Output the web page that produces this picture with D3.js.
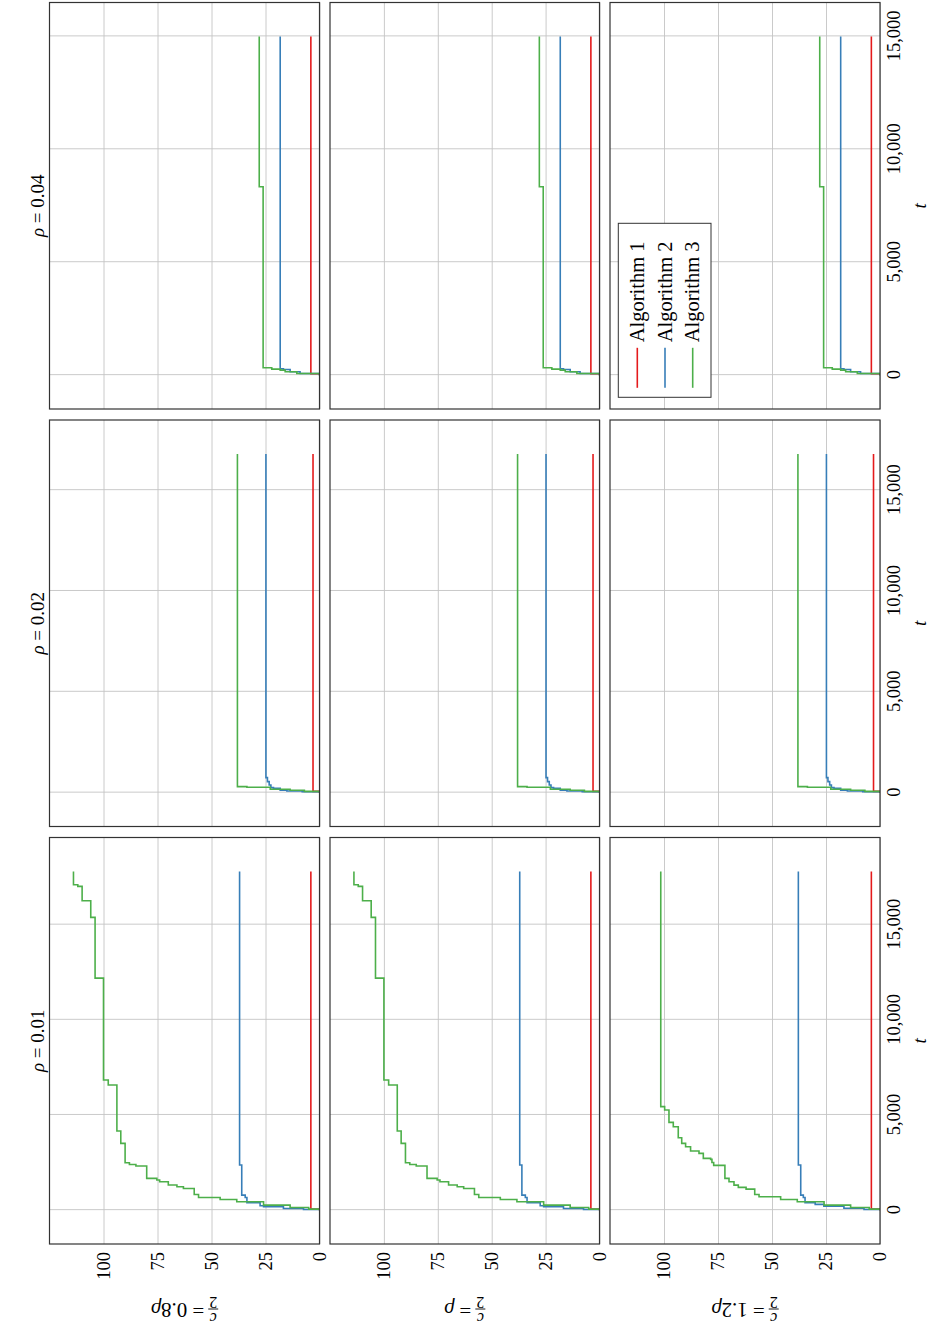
<!DOCTYPE html>
<html><head><meta charset="utf-8">
<script src="https://cdn.jsdelivr.net/npm/d3@7"></script>
<style>body{margin:0;background:#fff} svg{display:block}</style>
</head><body>
<svg id="c" width="932" height="1331"></svg>
<script>
// ---- data ----
const rhoValues = ["0.01", "0.02", "0.04"];
const rowLabels = ["0.8", "", "1.2"];           // c/2 = {prefix}ρ
const tEnd = [17800, 16800, 15000];
const tTicks = [0, 5000, 10000, 15000];
const vTicks = [0, 25, 50, 75, 100];
const vMax = 125;
const seriesNames = ["Algorithm 1", "Algorithm 2", "Algorithm 3"];
const colors = ["#e41a1c", "#377eb8", "#4daf4a"];

// [t, value] step points
const alg1_rho001 = [[0,0],[60,4]];
const alg1_rho002 = [[0,0],[60,3]];
const alg1_rho004 = [[0,0],[60,4]];

const alg2_rho001 = [[0,0],[35,7.4],[88,16.7],[175,25.9],[228,27.5],[386,33.6],[667,34.4],[789,36],[2370,37]];
const alg2_rho001_12 = [[0,0],[35,7.4],[100,16.7],[200,26],[300,30],[390,34.7],[667,35.5],[789,36.7],[2370,37.8]];
const alg2_rho002 = [[0,0],[40,8],[83,15.1],[116,18.2],[215,21.3],[248,22.5],[380,23.3],[545,24.1],[742,24.8]];
const alg2_rho004 = [[0,0],[74,9],[148,13.6],[252,16.7],[282,18.2]];

const alg3_rho001 = [[0,0],[50,5],[140,13.6],[263,25.9],[438,38.3],[561,46],[667,56],[824,58],[1140,63],[1230,66],[1320,70],[1490,74],[1580,75.3],[1666,80],[2315,85],[2400,88],[2490,90],[3508,92],[4157,93.8],[6577,97.8],[6840,100],[12190,103.9],[15383,105.9],[16260,109.9],[17014,111.9],[17100,113.9]];
const alg3_rho001_12 = [[0,0],[50,5],[140,13.6],[263,25.9],[438,38.3],[561,46],[702,56],[824,58],[1105,62],[1193,65.6],[1316,67.6],[1491,69.9],[1666,71.8],[2350,77],[2500,77.8],[2666,78.4],[2719,81.8],[2982,83.8],[3105,87.7],[3333,90],[3508,91.8],[3806,93.4],[4385,95.7],[4613,97.7],[5262,99.7],[5437,101.5]];
const alg3_rho002 = [[0,0],[60,7],[116,13.6],[165,22.8],[264,33.6],[297,38]];
const alg3_rho004 = [[0,0],[74,10.5],[148,15.9],[223,18.2],[267,22.1],[326,26.1],[8340,27.9]];

// panels[row][col] = [alg1, alg2, alg3]
const panels = [
  [[alg1_rho001, alg2_rho001, alg3_rho001], [alg1_rho002, alg2_rho002, alg3_rho002], [alg1_rho004, alg2_rho004, alg3_rho004]],
  [[alg1_rho001, alg2_rho001, alg3_rho001], [alg1_rho002, alg2_rho002, alg3_rho002], [alg1_rho004, alg2_rho004, alg3_rho004]],
  [[alg1_rho001, alg2_rho001_12, alg3_rho001_12], [alg1_rho002, alg2_rho002, alg3_rho002], [alg1_rho004, alg2_rho004, alg3_rho004]]
];

// ---- layout (drawn in landscape frame, then rotated onto the portrait page) ----
const FONT = "'Liberation Serif', 'DejaVu Serif', serif";
const colX = [[87, 493.5], [504.5, 911], [922, 1328.5]];
const rowY = [[49.5, 319.5], [330, 599.5], [610, 880]];

const svg = d3.select("#c");
const root = svg.append("g").attr("transform", "translate(0,1331) rotate(-90)")
  .style("font-family", FONT);

const fmt = d3.format(",");

panels.forEach((rowP, r) => {
  rowP.forEach((series, c) => {
    const x = d3.scaleLinear().domain([-0.1 * tEnd[c], 1.1 * tEnd[c]]).range(colX[c]);
    const y = d3.scaleLinear().domain([0, vMax]).range([rowY[r][1], rowY[r][0]]);
    const g = root.append("g");
    const cid = "clip" + r + c;
    g.append("clipPath").attr("id", cid).append("rect")
      .attr("x", colX[c][0]).attr("y", rowY[r][0])
      .attr("width", colX[c][1] - colX[c][0]).attr("height", rowY[r][1] - rowY[r][0]);

    // grid
    const gx = g.append("g").attr("transform", `translate(0,${rowY[r][1]})`)
      .call(d3.axisBottom(x).tickValues(tTicks).tickSize(-(rowY[r][1] - rowY[r][0])).tickFormat(""));
    gx.select(".domain").remove();
    gx.selectAll("line").attr("stroke", "#c4c4c4").attr("stroke-width", 0.9);
    const gy = g.append("g").attr("transform", `translate(${colX[c][0]},0)`)
      .call(d3.axisLeft(y).tickValues(vTicks).tickSize(-(colX[c][1] - colX[c][0])).tickFormat(""));
    gy.select(".domain").remove();
    gy.selectAll("line").attr("stroke", "#c4c4c4").attr("stroke-width", 0.9);

    // series
    const line = d3.line().x(d => x(d[0])).y(d => y(d[1])).curve(d3.curveStepAfter);
    series.forEach((pts, i) => {
      const full = pts.concat([[tEnd[c], pts[pts.length - 1][1]]]);
      g.append("path").attr("d", line(full)).attr("fill", "none")
        .attr("stroke", colors[i]).attr("stroke-width", 1.6)
        .attr("clip-path", `url(#${cid})`);
    });

    // frame
    g.append("rect").attr("x", colX[c][0]).attr("y", rowY[r][0])
      .attr("width", colX[c][1] - colX[c][0]).attr("height", rowY[r][1] - rowY[r][0])
      .attr("fill", "none").attr("stroke", "#333").attr("stroke-width", 1.2);

    // value tick labels (left column)
    if (c === 0) {
      const ay = g.append("g").attr("transform", `translate(${colX[c][0]},0)`)
        .call(d3.axisLeft(y).tickValues(vTicks).tickSize(0).tickPadding(8));
      ay.select(".domain").remove();
      ay.selectAll("text").attr("font-family", FONT).attr("font-size", 18.5).attr("fill", "#000");
    }
    // t tick labels (bottom row)
    if (r === 2) {
      const ax = g.append("g").attr("transform", `translate(0,${rowY[r][1]})`)
        .call(d3.axisBottom(x).tickValues(tTicks).tickSize(0).tickPadding(7).tickFormat(fmt));
      ax.select(".domain").remove();
      ax.selectAll("text").attr("font-family", FONT).attr("font-size", 18.5).attr("fill", "#000");
      g.append("text").attr("x", (colX[c][0] + colX[c][1]) / 2).attr("y", 926)
        .attr("text-anchor", "middle").attr("font-size", 19).attr("font-style", "italic").text("t");
    }
    // column titles
    if (r === 0) {
      const tt = g.append("text").attr("x", (colX[c][0] + colX[c][1]) / 2).attr("y", 44)
        .attr("text-anchor", "middle").attr("font-size", 19);
      tt.append("tspan").attr("font-style", "italic").text("ρ");
      tt.append("tspan").text(" = " + rhoValues[c]);
    }
  });
});

// row labels: c/2 = kρ  (rotated, reading upwards)
rowLabels.forEach((k, r) => {
  const yc = (rowY[r][0] + rowY[r][1]) / 2;
  const lg = root.append("g").attr("transform", `translate(0,${yc}) rotate(-90)`);
  const inner = lg.append("g");
  inner.append("text").attr("x", 0).attr("y", 18).attr("font-size", 16)
    .attr("font-style", "italic").attr("text-anchor", "middle").text("c");
  inner.append("line").attr("x1", -5).attr("x2", 5).attr("y1", 22).attr("y2", 22)
    .attr("stroke", "#000").attr("stroke-width", 0.9);
  inner.append("text").attr("x", 0).attr("y", 34).attr("font-size", 16)
    .attr("text-anchor", "middle").text("2");
  const mt = inner.append("text").attr("x", 9).attr("y", 28).attr("font-size", 21);
  mt.append("tspan").text(" = " + k);
  mt.append("tspan").attr("font-style", "italic").text("ρ");
  const bb = inner.node().getBBox();
  inner.attr("transform", `translate(${-(bb.x + bb.width / 2)},0)`);
});

// legend in panel (row 1.2ρ, col 0.04)
const lgX = 933.7, lgY = 618.3;
const leg = root.append("g");
leg.append("rect").attr("x", lgX).attr("y", lgY).attr("width", 174).attr("height", 92.7)
  .attr("fill", "#fff").attr("stroke", "#333").attr("stroke-width", 1);
seriesNames.forEach((name, i) => {
  const cy = lgY + 19 + i * 27.7;
  leg.append("line").attr("x1", lgX + 9.5).attr("x2", lgX + 49.5).attr("y1", cy).attr("y2", cy)
    .attr("stroke", colors[i]).attr("stroke-width", 1.6);
  leg.append("text").attr("x", lgX + 55).attr("y", cy + 6.5).attr("font-size", 20.5).text(name);
});
</script>
</body></html>
